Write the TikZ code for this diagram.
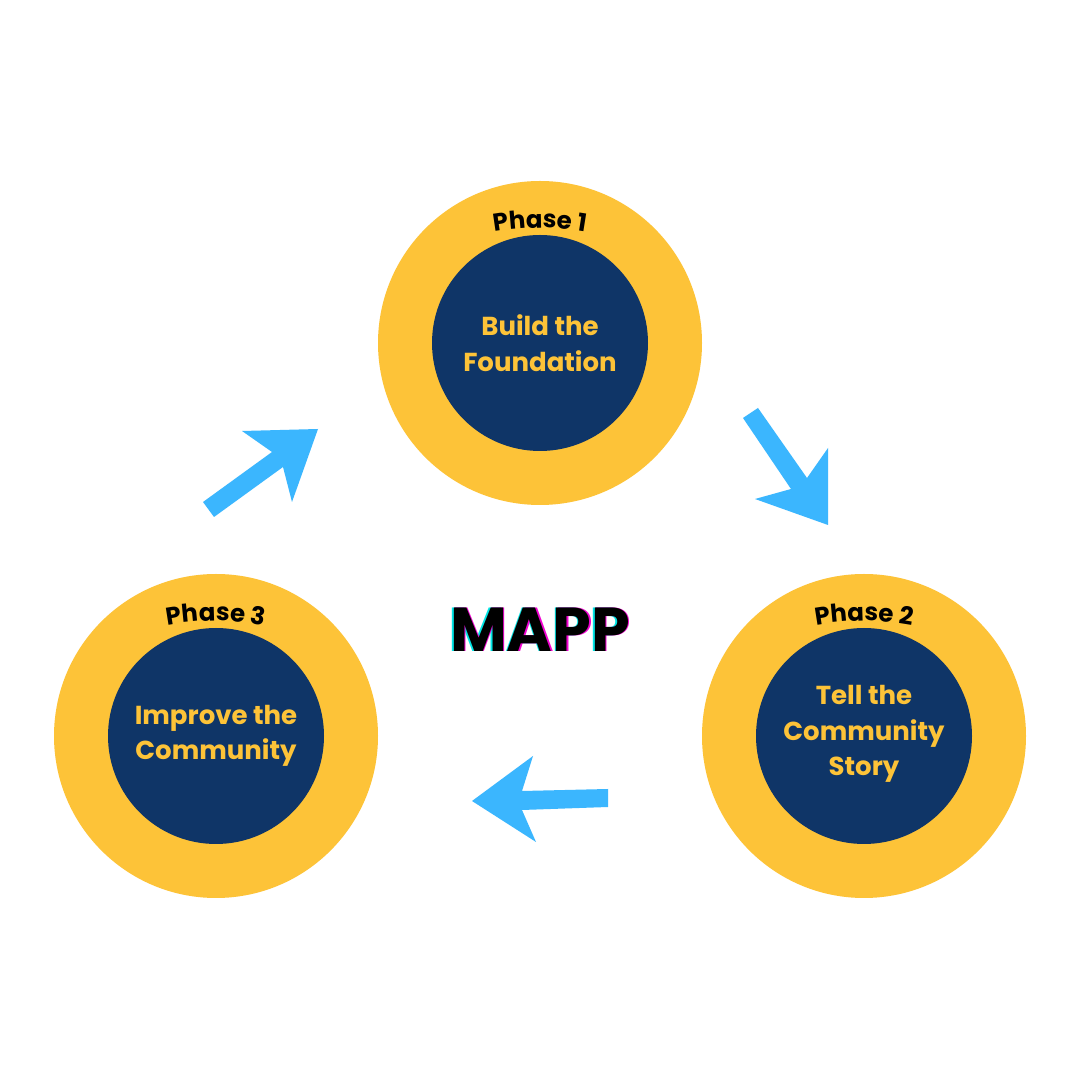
\documentclass[tikz,border=0pt]{standalone}
\usepackage{fontspec}
\setmainfont{Poppins}
\usepackage{tikz}
\usetikzlibrary{decorations.text}

\definecolor{ringyellow}{HTML}{FDC338}
\definecolor{corenavy}{HTML}{0F3567}
\definecolor{arrowblue}{HTML}{3BB6FE}
\definecolor{glitchcyan}{HTML}{00E5E5}
\definecolor{glitchmagenta}{HTML}{F000D0}

\newcommand{\phasefont}{\bfseries\fontsize{24.5}{24.5}\selectfont}
\newcommand{\corefont}{\bfseries\fontsize{26}{35.5}\selectfont}
\newcommand{\mappfont}{\bfseries\fontsize{62}{62}\selectfont}

\begin{document}
\begin{tikzpicture}[x=1pt, y=1pt,
  ring/.style={circle, fill=ringyellow, minimum size=324pt, inner sep=0pt},
  core/.style={circle, fill=corenavy, minimum size=216pt, inner sep=0pt},
  coretext/.style={text=ringyellow, font=\corefont, align=center},
  bigarrow/.style={fill=arrowblue}]

\useasboundingbox (0, 0) rectangle (1080, 1080);
\fill[white] (0, 0) rectangle (1080, 1080);

% draw outer and inner circles
\node[ring] (ring1) at (540, 737) {};
\node[ring] (ring2) at (864, 344) {};
\node[ring] (ring3) at (216, 344) {};
\node[core] (core1) at (ring1.center) {};
\node[core] (core2) at (ring2.center) {};
\node[core] (core3) at (ring3.center) {};

% draw curved phase labels
\foreach \r/\n in {ring1/1, ring2/2, ring3/3}{
  \path[decorate, decoration={text along path, text align=center,
        text={|\phasefont|Phase \n}}]
    ([shift={(0, -145)}]\r.center) ++(120 : 260) arc [radius = 260, start angle = 120, end angle = 60];
}

% draw phase texts
\node[coretext] (text1) at (core1.center) {Build the\\Foundation};
\node[coretext] (text2) at ([yshift=2]core2.center) {Tell the\\Community\\Story};
\node[coretext] (text3) at (core3.center) {Improve the\\Community};

% draw arrows
\fill[bigarrow] (203, 578) -- (272, 628) -- (242, 649) -- (318, 651)
                -- (292, 578) -- (283, 613) -- (214, 563) -- cycle;
\fill[bigarrow] (743, 662) -- (791, 591) -- (755, 581) -- (828, 555)
                -- (828, 632) -- (807, 602) -- (758, 672) -- cycle;
\fill[bigarrow] (472, 279) -- (533, 324) -- (522, 289) -- (608, 291)
                -- (608, 273) -- (522, 270) -- (536, 238) -- cycle;

% draw title (with glitch shadow)
\node[text=black, font=\mappfont] (mapp) at (540, 450)
  {\rlap{\hspace{-1.5pt}\color{glitchcyan}MAPP}\rlap{\hspace{1.5pt}\color{glitchmagenta}MAPP}MAPP};

\end{tikzpicture}
\end{document}
